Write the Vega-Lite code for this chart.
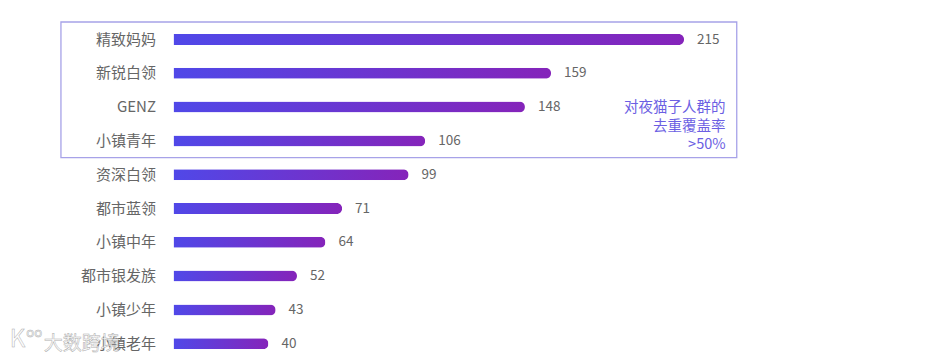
{
"$schema":"https://vega.github.io/schema/vega-lite/v6.json",
"width":752.5,"height":357,
"padding":{"left":173.5,"top":0,"right":0,"bottom":0},
"autosize":{"type":"none"},
"background":"white",
"config":{"view":{"stroke":null},"text":{"font":"Noto Sans CJK SC"}},
"datasets":{
"rows":[
{"group":"精致妈妈","value":215},{"group":"新锐白领","value":159},{"group":"GENZ","value":148},{"group":"小镇青年","value":106},{"group":"资深白领","value":99},{"group":"都市蓝领","value":71},{"group":"小镇中年","value":64},{"group":"都市银发族","value":52},{"group":"小镇少年","value":43},{"group":"小镇老年","value":40}],
"box":[{"x0":-47.4,"x1":237.2,"r0":0.482,"r1":4.5}],
"note":[{"line":"对夜猫子人群的\n去重覆盖率\n>50%","x":232.5,"r":3.03}],
"mark":[{"line":"大数跨境","x":-54.6,"r":10.0,"size":19},{"line":"K","x":-69,"r":9.9,"size":24},{"line":"oo","x":-62,"r":9.68,"size":13}]
},
"resolve":{"scale":{"y":"independent"}},
"layer":[
{"data":{"name":"rows"},
"encoding":{
"y":{"field":"group","type":"nominal","sort":null,"title":null,
"scale":{"type":"band","range":[22.6,360.6],"paddingInner":0.675,"paddingOuter":0.3375},
"axis":{"domain":false,"ticks":false,"labelPadding":18,"labelFont":"Noto Sans CJK SC","labelFontSize":15,"labelColor":"#666666","labelLimit":150}},
"x":{"field":"value","type":"quantitative","title":null,"scale":{"domain":[0,316.9],"range":[0,752.5],"nice":false,"zero":true},"axis":null}},
"layer":[
{"mark":{"type":"bar","cornerRadiusEnd":5.5,"color":{"gradient":"linear","x1":0,"x2":1,"y1":0,"y2":0,"stops":[{"offset":0,"color":"#5048E8"},{"offset":1,"color":"#8524BA"}]}}},
{"mark":{"type":"text","align":"left","baseline":"middle","dx":13,"fontSize":13.5,"color":"#666666"},
"encoding":{"text":{"field":"value","type":"quantitative"}}}
]},
{"data":{"name":"box"},"mark":{"type":"rect","fill":null,"stroke":"#A7A2E8","strokeWidth":1.3},
"encoding":{
"x":{"field":"x0","type":"quantitative"},"x2":{"field":"x1"},
"y":{"field":"r0","type":"quantitative","title":null,"axis":null,"scale":{"domain":[-0.169,10.399],"reverse":true,"nice":false,"zero":false}},"y2":{"field":"r1"}}},
{"data":{"name":"note"},"mark":{"type":"text","align":"right","baseline":"middle","fontSize":14.5,"lineHeight":18.5,"lineBreak":"\n","color":"#6C5FE3"},
"encoding":{
"x":{"field":"x","type":"quantitative"},
"y":{"field":"r","type":"quantitative","axis":null,"scale":{"domain":[-0.169,10.399],"reverse":true,"nice":false,"zero":false}},
"text":{"field":"line"}}},
{"data":{"name":"mark"},"mark":{"type":"text","align":"left","baseline":"middle","color":"#FFFFFF","stroke":"#999999","strokeWidth":0.5,"opacity":0.8},
"encoding":{
"x":{"field":"x","type":"quantitative"},
"y":{"field":"r","type":"quantitative","axis":null,"scale":{"domain":[-0.169,10.399],"reverse":true,"nice":false,"zero":false}},
"size":{"field":"size","type":"quantitative","scale":null,"legend":null},
"text":{"field":"line"}}}
]
}
